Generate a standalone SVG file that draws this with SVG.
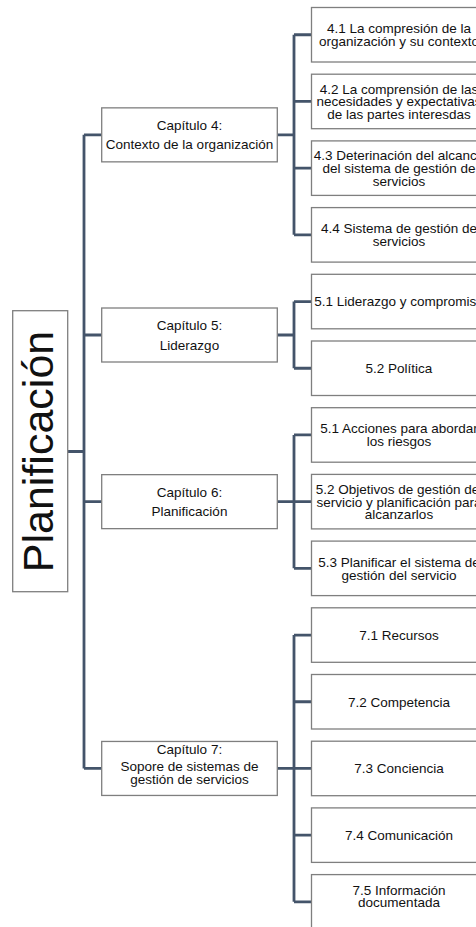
<svg xmlns="http://www.w3.org/2000/svg" width="476" height="927" viewBox="0 0 476 927">
<style>
.box{fill:#fff;stroke:#7f7f7f;stroke-width:1.3}
.t{font-family:"Liberation Sans",Arial,sans-serif;font-size:13.5px;fill:#111;text-anchor:middle}
.root{font-family:"Liberation Sans",Arial,sans-serif;font-size:43px;fill:#111;text-anchor:middle}
.c{fill:none;stroke:#44546a;stroke-width:2.8;stroke-linejoin:miter}
</style>
<rect width="476" height="927" fill="#fff"/>
<g id="connectors">
<path class="c" d="M67.7 451.5H84M84 134.85V768.45M84 134.85H101.7M84 335H101.7M84 501.65H101.7M84 768.45H101.7"/>
<path class="c" d="M277.3 134.85H294M294 34.75V234.85M294 34.75H311.5M294 101.45H311.5M294 168.15H311.5M294 234.85H311.5"/>
<path class="c" d="M277.3 335H294M294 301.55V368.25M294 301.55H311.5M294 368.25H311.5"/>
<path class="c" d="M277.3 501.65H294M294 434.95V568.35M294 434.95H311.5M294 501.65H311.5M294 568.35H311.5"/>
<path class="c" d="M277.3 768.45H294M294 635.05V901.85M294 635.05H311.5M294 701.75H311.5M294 768.45H311.5M294 835.15H311.5M294 901.85H311.5"/>
</g>
<g id="root">
<rect class="box" x="12.7" y="310.7" width="55" height="281"/>
<text class="root" transform="translate(53.3 451.5) rotate(-90)">Planificación</text>
</g>
<g id="cap4">
<rect class="box" x="101.7" y="107.85" width="175.6" height="54"/>
<text class="t" x="189.5" y="129.85">Capítulo 4:</text>
<text class="t" x="189.5" y="149.35">Contexto de la organización</text>
</g>
<g id="cap5">
<rect class="box" x="101.7" y="308" width="175.6" height="54"/>
<text class="t" x="189.5" y="330">Capítulo 5:</text>
<text class="t" x="189.5" y="349.5">Liderazgo</text>
</g>
<g id="cap6">
<rect class="box" x="101.7" y="474.65" width="175.6" height="54"/>
<text class="t" x="189.5" y="496.65">Capítulo 6:</text>
<text class="t" x="189.5" y="516.15">Planificación</text>
</g>
<g id="cap7">
<rect class="box" x="101.7" y="741.45" width="175.6" height="54"/>
<text class="t" x="189.5" y="754">Capítulo 7:</text>
<text class="t" x="189.5" y="771">Sopore de sistemas de</text>
<text class="t" x="189.5" y="784">gestión de servicios</text>
</g>
<g id="n41">
<rect class="box" x="311.5" y="7.5" width="176" height="54.5"/>
<text class="t" x="399" y="33.2">4.1 La compresión de la</text>
<text class="t" x="399" y="46">organización y su contexto</text>
</g>
<g id="n42">
<rect class="box" x="311.5" y="74.2" width="176" height="54.5"/>
<text class="t" x="399" y="93.5">4.2 La comprensión de las</text>
<text class="t" x="399" y="106.3">necesidades y expectativas</text>
<text class="t" x="399" y="119.1">de las partes interesdas</text>
</g>
<g id="n43">
<rect class="box" x="311.5" y="140.9" width="176" height="54.5"/>
<text class="t" x="399" y="160.2">4.3 Deterinación del alcance</text>
<text class="t" x="399" y="173">del sistema de gestión de</text>
<text class="t" x="399" y="185.8">servicios</text>
</g>
<g id="n44">
<rect class="box" x="311.5" y="207.6" width="176" height="54.5"/>
<text class="t" x="399" y="233.3">4.4 Sistema de gestión de</text>
<text class="t" x="399" y="246.1">servicios</text>
</g>
<g id="n51">
<rect class="box" x="311.5" y="274.3" width="176" height="54.5"/>
<text class="t" x="399" y="306.4">5.1 Liderazgo y compromiso</text>
</g>
<g id="n52">
<rect class="box" x="311.5" y="341" width="176" height="54.5"/>
<text class="t" x="399" y="373.1">5.2 Política</text>
</g>
<g id="n61">
<rect class="box" x="311.5" y="407.7" width="176" height="54.5"/>
<text class="t" x="399" y="433.4">5.1 Acciones para abordar</text>
<text class="t" x="399" y="446.2">los riesgos</text>
</g>
<g id="n62">
<rect class="box" x="311.5" y="474.4" width="176" height="54.5"/>
<text class="t" x="399" y="493.7">5.2 Objetivos de gestión del</text>
<text class="t" x="399" y="506.5">servicio y planificación para</text>
<text class="t" x="399" y="519.3">alcanzarlos</text>
</g>
<g id="n63">
<rect class="box" x="311.5" y="541.1" width="176" height="54.5"/>
<text class="t" x="399" y="566.8">5.3 Planificar el sistema de</text>
<text class="t" x="399" y="579.6">gestión del servicio</text>
</g>
<g id="n71">
<rect class="box" x="311.5" y="607.8" width="176" height="54.5"/>
<text class="t" x="399" y="639.9">7.1 Recursos</text>
</g>
<g id="n72">
<rect class="box" x="311.5" y="674.5" width="176" height="54.5"/>
<text class="t" x="399" y="706.6">7.2 Competencia</text>
</g>
<g id="n73">
<rect class="box" x="311.5" y="741.2" width="176" height="54.5"/>
<text class="t" x="399" y="773.3">7.3 Conciencia</text>
</g>
<g id="n74">
<rect class="box" x="311.5" y="807.9" width="176" height="54.5"/>
<text class="t" x="399" y="840">7.4 Comunicación</text>
</g>
<g id="n75">
<rect class="box" x="311.5" y="874.6" width="176" height="54.5"/>
<text class="t" x="399" y="894.5">7.5 Información</text>
<text class="t" x="399" y="907.3">documentada</text>
</g>
</svg>
